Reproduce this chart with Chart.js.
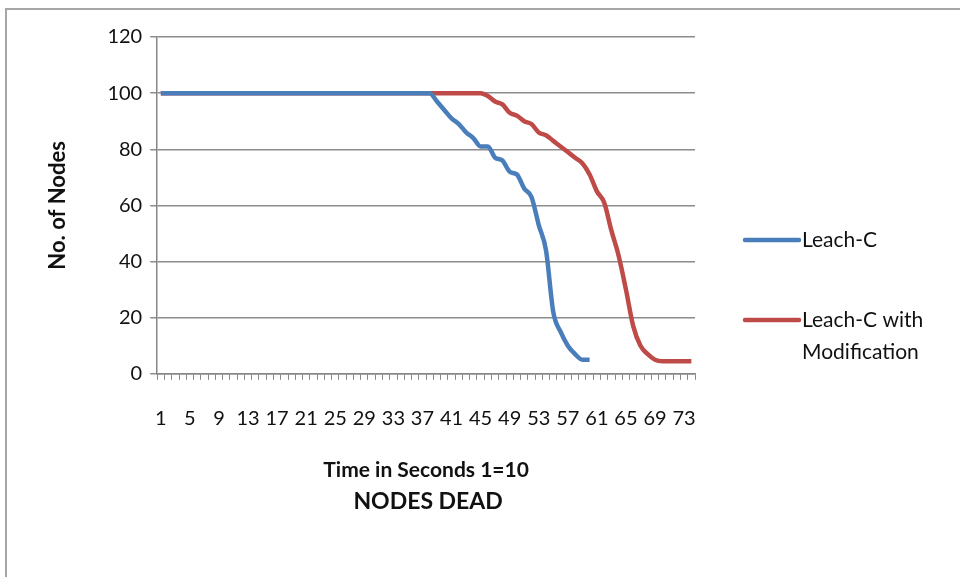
<!DOCTYPE html>
<html>
<head>
<meta charset="utf-8">
<script src="https://cdn.jsdelivr.net/npm/chart.js@4.4.0/dist/chart.umd.min.js"></script>
<style>
  html, body { margin: 0; padding: 0; background: #fff; }
  #wrap { position: relative; width: 960px; height: 577px; overflow: hidden; }
  #marco { position: absolute; left: 5px; top: 8px; width: 1000px; height: 600px; border: 2px solid #a6a6a6; }
  canvas { position: absolute; left: 0; top: 0; }
</style>
</head>
<body>
<div id="wrap">
  <div id="marco"></div>
  <canvas id="myChart" width="960" height="577"></canvas>
</div>
<script>
// categorias del eje x (1..74)
const tiempos = Array.from({ length: 74 }, (_, i) => String(i + 1));

// nodos vivos, serie Leach-C (termina en la categoria 60)
const leachC = [
  100, 100, 100, 100, 100, 100, 100, 100, 100, 100,
  100, 100, 100, 100, 100, 100, 100, 100, 100, 100,
  100, 100, 100, 100, 100, 100, 100, 100, 100, 100,
  100, 100, 100, 100, 100, 100, 100, 100, 97, 94,
  91, 89, 86, 84, 81, 81, 77, 76, 72, 71,
  66, 63, 53, 44, 22, 15, 10, 7, 5, 5
];

// nodos vivos, serie Leach-C con modificacion
const leachMod = [
  100, 100, 100, 100, 100, 100, 100, 100, 100, 100,
  100, 100, 100, 100, 100, 100, 100, 100, 100, 100,
  100, 100, 100, 100, 100, 100, 100, 100, 100, 100,
  100, 100, 100, 100, 100, 100, 100, 100, 100, 100,
  100, 100, 100, 100, 100, 99, 97, 96, 93, 92,
  90, 89, 86, 85, 83, 81, 79, 77, 75, 71,
  65, 61, 51, 42, 30, 17, 10, 7, 5, 4.5,
  4.5, 4.5, 4.5, 4.5
];

const marcasY = [0, 20, 40, 60, 80, 100, 120];

const fuente = 'Lato, "Open Sans", sans-serif';

// leyenda y subtitulo dibujados a mano (texto en dos lineas como en Excel)
const leyenda = {
  id: 'leyenda',
  afterDraw(chart) {
    const c = chart.ctx;
    const area = chart.chartArea;
    const x0 = area.right + 50;
    const filas = [
      { y: 240, textos: [chart.data.datasets[0].label] },
      { y: 320, textos: ['Leach-C with', 'Modification'] }
    ];
    c.save();
    filas.forEach((f, i) => {
      const ds = chart.data.datasets[i];
      c.strokeStyle = ds.borderColor;
      c.lineWidth = 4.5;
      c.lineCap = 'round';
      c.beginPath();
      c.moveTo(x0, f.y);
      c.lineTo(x0 + 54, f.y);
      c.stroke();
      c.fillStyle = '#111';
      c.font = '21px ' + fuente;
      c.textBaseline = 'middle';
      f.textos.forEach((t, j) => c.fillText(t, x0 + 57, f.y + j * 32));
    });
    // "NODES DEAD" debajo del titulo del eje x
    c.font = 'bold 23px ' + fuente;
    c.textAlign = 'center';
    c.fillText('NODES DEAD', (area.left + area.right) / 2 + 2, area.bottom + 128);
    c.restore();
  }
};

const ctx = document.getElementById('myChart');
new Chart(ctx, {
  type: 'line',
  data: {
    labels: tiempos,
    datasets: [
      {
        label: 'Leach-C',
        data: leachC,
        borderColor: '#4a7ebb',
        borderWidth: 4.5,
        pointRadius: 0,
        cubicInterpolationMode: 'monotone',
        fill: false
      },
      {
        label: 'Leach-C with Modification',
        data: leachMod,
        borderColor: '#be4b48',
        borderWidth: 4.5,
        pointRadius: 0,
        cubicInterpolationMode: 'monotone',
        fill: false
      }
    ]
  },
  options: {
    responsive: false,
    animation: false,
    layout: { padding: { left: 41, right: 265, top: 37, bottom: 94 } },
    plugins: {
      legend: { display: false },
      tooltip: { enabled: false }
    },
    scales: {
      x: {
        offset: true,
        grid: {
          offset: true,
          drawOnChartArea: false,
          tickLength: 6,
          color: '#868686'
        },
        border: { color: '#868686', width: 1.5 },
        ticks: {
          autoSkip: false,
          maxRotation: 0,
          minRotation: 0,
          padding: 27,
          color: '#111',
          font: { family: fuente, size: 20 },
          callback: (v, i) => (i % 4 === 0 ? tiempos[i] : '')
        },
        title: {
          display: true,
          text: 'Time in Seconds 1=10',
          color: '#111',
          font: { family: fuente, size: 21, weight: 'bold' },
          padding: { top: 0, bottom: 0 }
        }
      },
      y: {
        min: 0,
        max: 120,
        afterBuildTicks: (ax) => { ax.ticks = marcasY.map(v => ({ value: v })); },
        grid: { color: '#8c8c8c', lineWidth: 1.5, tickLength: 7 },
        border: { color: '#868686', width: 1.5 },
        ticks: {
          padding: 8,
          color: '#111',
          font: { family: fuente, size: 20 }
        },
        title: {
          display: true,
          text: 'No. of Nodes',
          color: '#111',
          font: { family: fuente, size: 22, weight: 'bold' },
          padding: { bottom: 28 }
        }
      }
    }
  },
  plugins: [leyenda]
});
</script>
</body>
</html>
